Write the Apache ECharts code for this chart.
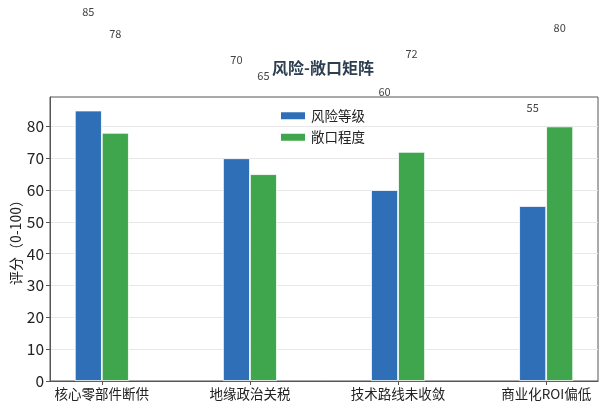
<!DOCTYPE html>
<html>
<head>
<meta charset="utf-8"/>
<title>风险-敞口矩阵</title>
<script src="https://cdn.jsdelivr.net/npm/echarts@6/dist/echarts.min.js"></script>
<style>
  html, body { margin: 0; padding: 0; background: #fff; }
  #chart { width: 605px; height: 410px; }
</style>
</head>
<body>
<div id="chart"></div>
<script type="text/javascript">
    // 数据
    var categories = ['核心零部件断供', '地缘政治关税', '技术路线未收敛', '商业化ROI偏低'];
    var riskLevel = [85, 70, 60, 55];
    var exposure = [78, 65, 72, 80];
    var yTicks = [0, 10, 20, 30, 40, 50, 60, 70, 80];

    var font = '"Noto Sans CJK SC", "Noto Sans", sans-serif';
    var positions = categories.map(function (c, i) { return i; });

    var toPoints = function (values) {
        return values.map(function (v, i) { return [positions[i], v]; });
    };

    var barLabel = {
        show: true,
        position: 'top',
        distance: 93,
        fontSize: 11,
        color: '#444',
        fontFamily: font
    };

    var myChart = echarts.init(document.getElementById('chart'));
    var option = {
        animation: false,
        textStyle: { fontFamily: font },
        title: {
            text: '风险-敞口矩阵',
            left: 318,
            textAlign: 'center',
            top: 55,
            textStyle: { fontSize: 16, fontWeight: 'bold', color: '#2c3e50', fontFamily: font }
        },
        legend: {
            orient: 'vertical',
            left: 279,
            top: 109,
            padding: 0,
            itemWidth: 26,
            itemHeight: 9,
            itemGap: 8,
            icon: 'rect',
            textStyle: { fontSize: 13.5, color: '#222', fontFamily: font },
            data: ['风险等级', '敞口程度']
        },
        grid: {
            left: 50,
            right: 7,
            top: 97,
            bottom: 29,
            show: true,
            borderColor: '#555',
            borderWidth: 1,
            containLabel: false,
            outerBoundsMode: 'none'
        },
        xAxis: {
            type: 'value',
            min: -0.35,
            max: 3.35,
            splitLine: { show: false },
            axisLine: { show: true, onZero: false, lineStyle: { color: '#555' } },
            axisTick: { show: true, length: 4, customValues: positions, lineStyle: { color: '#555' } },
            axisLabel: {
                customValues: positions,
                formatter: function (v) { return categories[Math.round(v)]; },
                fontSize: 13.5,
                color: '#222',
                margin: 6,
                fontFamily: font
            }
        },
        yAxis: {
            type: 'value',
            min: 0,
            max: 89.25,
            name: '评分（0-100）',
            nameLocation: 'middle',
            nameGap: 27,
            nameMoveOverlap: false,
            nameTextStyle: { fontSize: 14, color: '#222', fontFamily: font },
            axisLine: { show: true, onZero: false, lineStyle: { color: '#555' } },
            axisTick: { show: true, length: 4, customValues: yTicks, lineStyle: { color: '#555' } },
            axisLabel: {
                customValues: yTicks,
                fontSize: 15.5,
                color: '#222',
                margin: 6,
                fontFamily: font
            },
            splitLine: { show: true, lineStyle: { color: '#e8e8e8', width: 1 } }
        },
        series: [
            {
                name: '风险等级',
                type: 'bar',
                barWidth: 27,
                barGap: '0%',
                data: toPoints(riskLevel),
                itemStyle: { color: '#2e6fb7', borderColor: '#fff', borderWidth: 0.8 },
                label: barLabel
            },
            {
                name: '敞口程度',
                type: 'bar',
                barWidth: 27,
                barGap: '0%',
                data: toPoints(exposure),
                itemStyle: { color: '#3fa64d', borderColor: '#fff', borderWidth: 0.8 },
                label: barLabel
            }
        ]
    };
    myChart.setOption(option);
</script>
</body>
</html>
